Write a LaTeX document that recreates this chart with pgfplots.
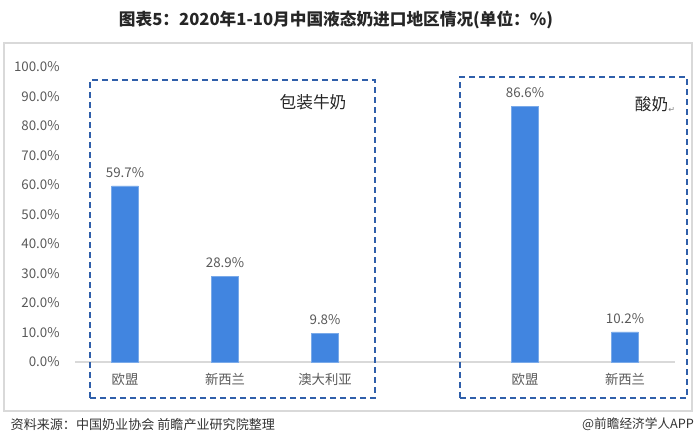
\documentclass[border=0pt]{standalone}
\usepackage{pgfplots}
\pgfplotsset{compat=1.18}
\usepackage{fontspec}
\setmainfont{Noto Sans CJK SC}
\newfontfamily\symfont{DejaVu Sans}
\definecolor{barblue}{RGB}{65,133,224}
\definecolor{boxblue}{RGB}{47,95,170}
\definecolor{frame}{RGB}{217,217,217}
\definecolor{ink}{RGB}{89,89,89}
\begin{document}
\begin{tikzpicture}
\path (0pt,0pt) rectangle (525pt,335.25pt);
\draw[frame,line width=1.2pt] (3pt,27pt) rectangle (519pt,303pt);
\node[font=\bfseries\fontsize{12.5}{14}\selectfont,text=black!85] at (252pt,320pt) {图表5：2020年1-10月中国液态奶进口地区情况(单位：\%)};
\node[anchor=west,font=\fontsize{9.8}{11}\selectfont,text=black!80] at (4.5pt,17pt) {资料来源：中国奶业协会 前瞻产业研究院整理};
\node[anchor=east,font=\fontsize{9.5}{11}\selectfont,text=black!80] at (524pt,17pt) {@前瞻经济学人APP};
\begin{axis}[
  at={(56.25pt,63.75pt)},anchor=south west,scale only axis,
  width=450pt,height=221.25pt,
  ymin=0,ymax=100,xmin=-0.5,xmax=5.5,
  ytick={0,10,...,100},
  xtick={0,1,2,4,5},
  xticklabels={欧盟,新西兰,澳大利亚,欧盟,新西兰},
  axis line style={draw=none},
  clip=false,
  /pgf/number format/assume math mode=true,
  yticklabel={\pgfmathprintnumber[fixed,fixed zerofill,precision=1]{\tick}\%},
  yticklabel style={text=ink,font=\fontsize{10}{11}\selectfont,xshift=-8pt},
  xticklabel style={text=ink,font=\fontsize{10}{11}\selectfont,yshift=-5pt},
  major tick length=0pt,
  tick style={draw=none},
]
\draw[frame,line width=0.9pt] (axis cs:-0.5,0) -- (axis cs:5.5,0);
\addplot[ybar,bar width=20pt,fill=barblue,draw=barblue!70,
  nodes near coords={\pgfmathprintnumber[fixed,fixed zerofill,precision=1]{\pgfplotspointmeta}\%},
  nodes near coords style={text=ink,font=\fontsize{10}{11}\selectfont,yshift=3pt}]
  coordinates {(0,59.7) (1,28.9) (2,9.8) (4,86.6) (5,10.2)};
\draw[boxblue,line width=1.1pt,dash pattern=on 4.5pt off 3pt]
  (axis cs:-0.35,-12.2) rectangle (axis cs:2.5,95.6);
\draw[boxblue,line width=1.1pt,dash pattern=on 4.5pt off 3pt]
  (axis cs:3.35,-12.2) rectangle (axis cs:5.62,96.6);
\node[font=\fontsize{12.5}{14}\selectfont,text=black!85] at (axis cs:1.88,88) {包装牛奶};
\node[font=\fontsize{12.5}{14}\selectfont,text=black!85] at (axis cs:5.3,87.3) {酸奶\raisebox{-1pt}{\symfont\fontsize{6}{6}\selectfont\textcolor{gray}{↵}}};
\end{axis}
\end{tikzpicture}
\end{document}
